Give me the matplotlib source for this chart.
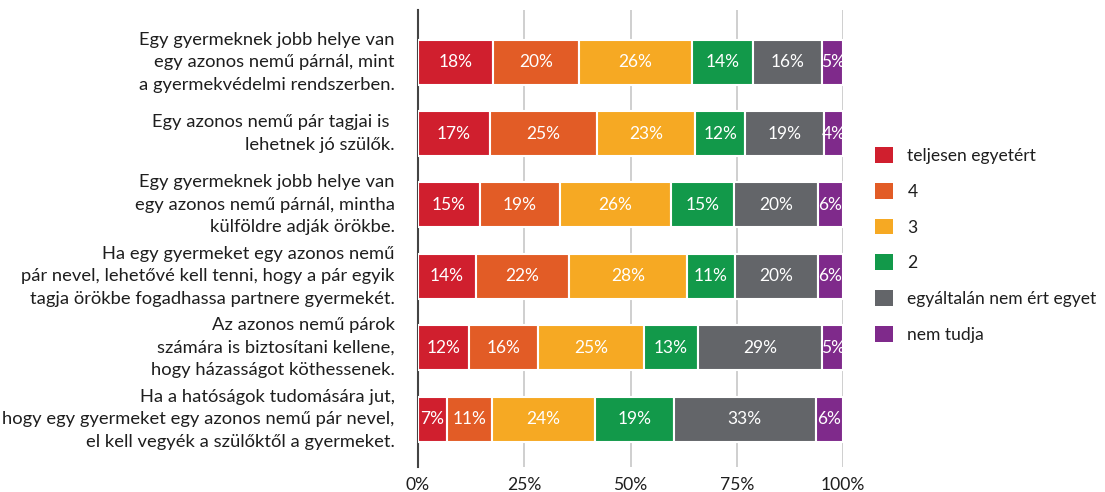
import matplotlib
matplotlib.use("Agg")
import matplotlib.pyplot as plt
from matplotlib.patches import Patch

plt.rcParams['font.family'] = ['Lato', 'DejaVu Sans']

categories = [
    "Egy gyermeknek jobb helye van\negy azonos nemű párnál, mint\na gyermekvédelmi rendszerben.",
    "Egy azonos nemű pár tagjai is \nlehetnek jó szülők.",
    "Egy gyermeknek jobb helye van\negy azonos nemű párnál, mintha\nkülföldre adják örökbe.",
    "Ha egy gyermeket egy azonos nemű\npár nevel, lehetővé kell tenni, hogy a pár egyik\ntagja örökbe fogadhassa partnere gyermekét.",
    "Az azonos nemű párok\nszámára is biztosítani kellene,\nhogy házasságot köthessenek.",
    "Ha a hatóságok tudomására jut,\nhogy egy gyermeket egy azonos nemű pár nevel,\nel kell vegyék a szülőktől a gyermeket.",
]
series_names = ["teljesen egyetért", "4", "3", "2", "egyáltalán nem ért egyet", "nem tudja"]
teljesen = [17.6, 16.9, 14.6, 13.6, 12.0, 6.8]
negy = [20.2, 25.2, 18.8, 21.9, 16.2, 10.6]
harom = [26.4, 23.1, 26.2, 27.8, 24.9, 24.2]
ketto = [14.4, 11.8, 14.8, 11.3, 12.7, 18.6]
egyaltalan = [16.2, 18.6, 19.8, 19.6, 29.2, 33.4]
nem_tudja = [4.9, 4.4, 5.9, 5.9, 4.9, 6.4]
xticks = [0, 25, 50, 75, 100]
xticklabels = ["0%", "25%", "50%", "75%", "100%"]

series = [teljesen, negy, harom, ketto, egyaltalan, nem_tudja]
colors = ["#d01f2e", "#e25c26", "#f6a923", "#12994a", "#636569", "#7f2a8b"]
text_color = "#1e1e1e"

fig = plt.figure(figsize=(11.05, 4.92), dpi=100)
ax = fig.add_axes([418/1105, 1-467/492, 425/1105, 457/492])

n = len(categories)
totals = [sum(s[i] for s in series) for i in range(n)]
lefts = [0.0]*n
for si, s in enumerate(series):
    for i in range(n):
        w = s[i] / totals[i] * 100
        bar = ax.barh(i, w, left=lefts[i], height=0.63, color=colors[si],
                      edgecolor="white", linewidth=1.5, zorder=3)[0]
        t = ax.text(lefts[i] + w/2, i, f"{round(s[i])}%", ha="center", va="center",
                    color="white", fontsize=12.5, zorder=4)
        t.set_clip_path(bar)
        lefts[i] += w

ax.set_ylim(5.67, -0.73)
ax.set_xlim(0, 100)
ax.set_xticks(xticks)
ax.set_xticklabels(xticklabels, fontsize=12.6, color=text_color)
ax.tick_params(axis="x", length=0, pad=7)
ax.set_yticks([])
for x in xticks[1:]:
    ax.axvline(x, color="#cccccc", linewidth=1.3, zorder=1)
for sp in ["top", "right", "bottom"]:
    ax.spines[sp].set_visible(False)
ax.spines["left"].set_color("#444444")
ax.spines["left"].set_linewidth(1.5)

for i, c in enumerate(categories):
    ax.text(-5.5, i, c, ha="right", va="center", fontsize=13.2, color=text_color,
            linespacing=1.5)

handles = [Patch(facecolor=colors[k], edgecolor="none", label=series_names[k]) for k in range(6)]
fig.legend(handles=handles, loc="center left", bbox_to_anchor=(868/1105, 1-245/492),
           frameon=False, fontsize=12.6, handlelength=1.0, handleheight=1.0,
           labelspacing=1.08, handletextpad=0.85, borderaxespad=0, labelcolor=text_color)

fig.savefig("out.png", dpi=100)
